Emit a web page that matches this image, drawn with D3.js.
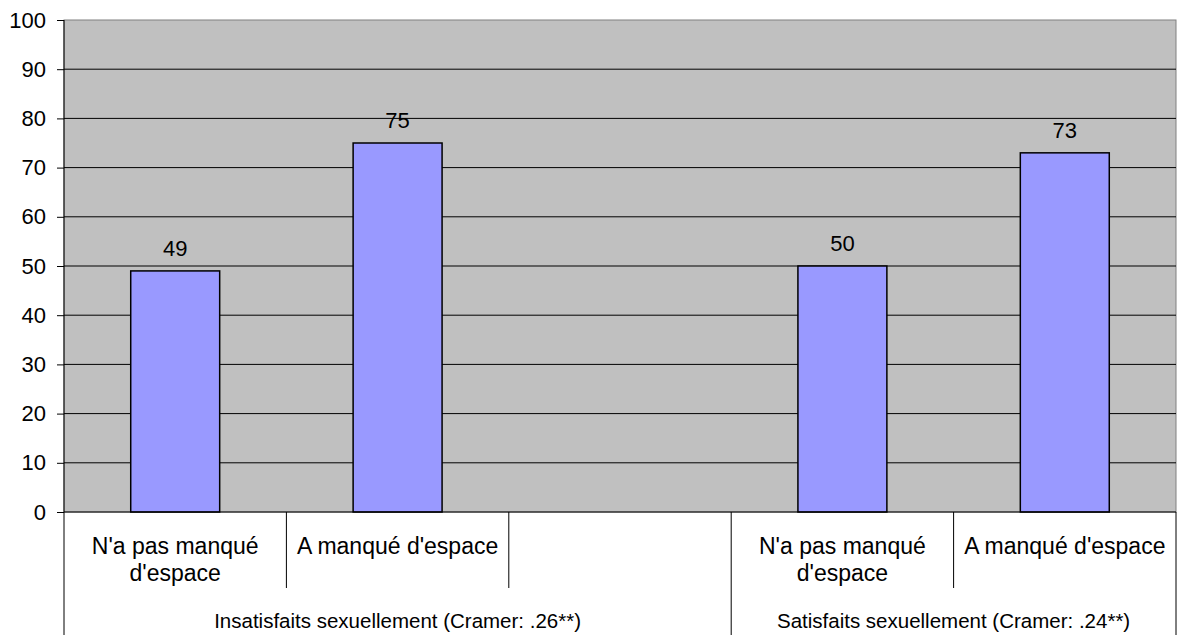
<!DOCTYPE html>
<html>
<head>
<meta charset="utf-8">
<script src="https://cdn.jsdelivr.net/npm/d3@7"></script>
<style>
  body { margin: 0; background: #fff; }
  text { font-family: Arial, "Liberation Sans", sans-serif; fill: #000; }
</style>
</head>
<body>
<div id="chart"></div>
<script>
// one slot per category, the empty slot separates the two groups
const categoryLines = [
    ["N'a pas manqué", "d'espace"],
    ["A manqué d'espace"],
    [],
    ["N'a pas manqué", "d'espace"],
    ["A manqué d'espace"]
]
const values = [49, 75, null, 50, 73]
const groupLabels = ['Insatisfaits sexuellement (Cramer: .26**)', 'Satisfaits sexuellement (Cramer: .24**)']
const groupSpans = [3, 2]
const yTicks = [0, 10, 20, 30, 40, 50, 60, 70, 80, 90, 100]

const width = 1181
const height = 635
const margin = { top: 20, right: 5, bottom: 123, left: 64 }
const plotW = width - margin.left - margin.right
const plotH = height - margin.top - margin.bottom
const fontSize = '22px'

const svg = d3.select('#chart').append('svg')
    .attr('width', width)
    .attr('height', height)

const x = d3.scaleBand()
    .domain(d3.range(values.length))
    .range([margin.left, margin.left + plotW])
    .padding(0)
const y = d3.scaleLinear().domain([0, 100]).range([margin.top + plotH, margin.top])

// plot background
svg.append('rect')
    .attr('x', margin.left)
    .attr('y', margin.top)
    .attr('width', plotW)
    .attr('height', plotH)
    .attr('fill', '#c0c0c0')
    .attr('stroke', '#808080')
    .attr('stroke-width', 1)

// gridlines
svg.append('g')
    .selectAll('line')
    .data(yTicks.filter((d) => d > 0 && d < 100))
    .enter().append('line')
    .attr('x1', margin.left)
    .attr('x2', margin.left + plotW)
    .attr('y1', (d) => y(d))
    .attr('y2', (d) => y(d))
    .attr('stroke', '#000')
    .attr('stroke-width', 1)

// y axis
const yAxis = d3.axisLeft(y).tickValues(yTicks).tickSize(7).tickPadding(8)
const yg = svg.append('g')
    .attr('transform', 'translate(' + margin.left + ',0)')
    .call(yAxis)
yg.select('.domain').remove()
yg.selectAll('.tick line').attr('stroke', '#000')
yg.selectAll('.tick text')
    .style('font-size', fontSize)
    .style('font-family', 'Arial, "Liberation Sans", sans-serif')
    .attr('fill', '#000')
    .attr('x', -18)
svg.append('line')
    .attr('x1', margin.left).attr('x2', margin.left)
    .attr('y1', margin.top).attr('y2', height)
    .attr('stroke', '#000')

// bars
const barW = x.bandwidth() * 0.4
const barData = values.map((v, i) => ({ i: i, v: v })).filter((d) => d.v !== null)
svg.append('g')
    .selectAll('rect')
    .data(barData)
    .enter().append('rect')
    .attr('x', (d) => x(d.i) + (x.bandwidth() - barW) / 2)
    .attr('y', (d) => y(d.v))
    .attr('width', barW)
    .attr('height', (d) => y(0) - y(d.v))
    .attr('fill', '#9999ff')
    .attr('stroke', '#000')
    .attr('stroke-width', 1.5)

svg.append('g')
    .selectAll('text')
    .data(barData)
    .enter().append('text')
    .attr('x', (d) => x(d.i) + x.bandwidth() / 2)
    .attr('y', (d) => y(d.v) - 15)
    .attr('text-anchor', 'middle')
    .style('font-size', fontSize)
    .text((d) => d.v)

// x axis baseline
const base = y(0)
svg.append('line')
    .attr('x1', margin.left).attr('x2', margin.left + plotW)
    .attr('y1', base).attr('y2', base)
    .attr('stroke', '#000')

// category labels
categoryLines.forEach((lines, i) => {
    const t = svg.append('text')
        .attr('x', x(i) + x.bandwidth() / 2)
        .attr('y', base + 42)
        .attr('text-anchor', 'middle')
        .style('font-size', '23px')
    lines.forEach((l, k) => {
        t.append('tspan')
            .attr('x', x(i) + x.bandwidth() / 2)
            .attr('dy', k === 0 ? 0 : 27)
            .text(l)
    })
})

// category separators and group boundaries
let start = 0
const groupEdges = [0]
groupSpans.forEach((s) => { start += s; groupEdges.push(start) })
for (let i = 1; i <= values.length; i++) {
    const xe = i === values.length ? margin.left + plotW : x(i)
    const isGroupEdge = groupEdges.indexOf(i) >= 0
    svg.append('line')
        .attr('x1', xe).attr('x2', xe)
        .attr('y1', base)
        .attr('y2', isGroupEdge ? height : base + 76)
        .attr('stroke', '#000')
}

// group labels
groupLabels.forEach((g, k) => {
    const a = groupEdges[k]
    const b = groupEdges[k + 1]
    const x0 = x(a)
    const x1 = b === values.length ? margin.left + plotW : x(b)
    svg.append('text')
        .attr('x', (x0 + x1) / 2)
        .attr('y', base + 116)
        .attr('text-anchor', 'middle')
        .style('font-size', '20.5px')
        .text(g)
})
</script>
</body>
</html>
